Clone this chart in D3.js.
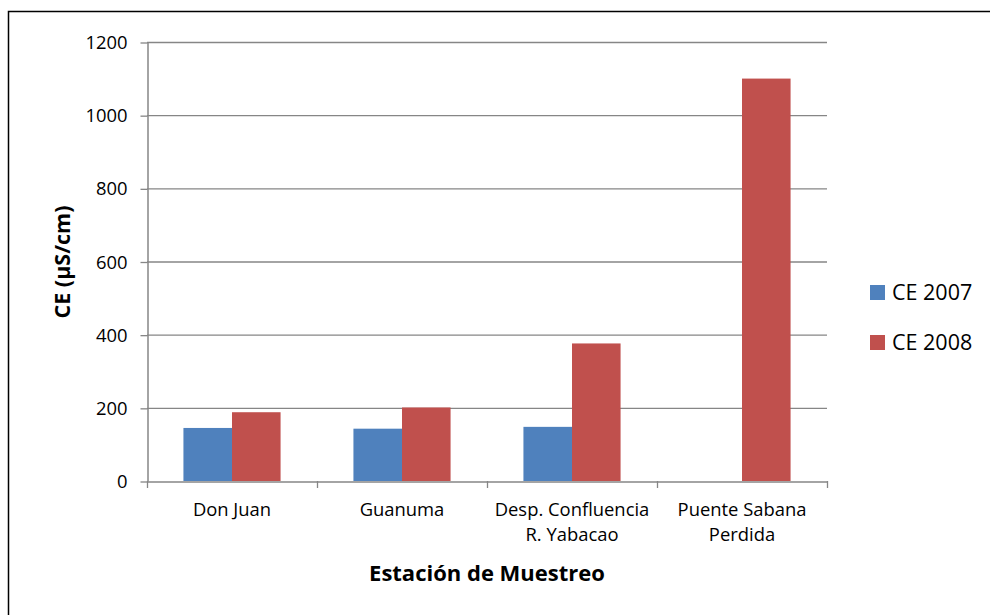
<!DOCTYPE html>
<html><head><meta charset="utf-8">
<script src="https://cdn.jsdelivr.net/npm/d3@7"></script>
<style>body{margin:0;background:#fff}svg{display:block}text{font-family:"Open Sans",Carlito,Calibri,sans-serif;fill:#000}</style>
</head><body>
<script>
const categories = [["Don Juan"], ["Guanuma"], ["Desp. Confluencia", "R. Yabacao"], ["Puente Sabana", "Perdida"]];
const series = ["CE 2007", "CE 2008"];
const ce2007 = [145, 143, 148, null];
const ce2008 = [188, 201, 376, 1100];
const yTicks = [0, 200, 400, 600, 800, 1000, 1200];
const colors = ["#4F81BD", "#C0504D"];

const FONT = '"Open Sans",Carlito,Calibri,sans-serif';
const W = 990, H = 615;
const svg = d3.select("body").append("svg").attr("width", W).attr("height", H);
svg.append("rect").attr("x", 8.5).attr("y", 11.5).attr("width", 1000).attr("height", 620)
  .attr("fill", "#fff").attr("stroke", "#000").attr("stroke-width", 1.5);

const pL = 147, pR = 827, pT = 42, pB = 481;
const x = d3.scaleBand().domain(d3.range(categories.length)).range([pL, pR]).paddingInner(0).paddingOuter(0);
const y = d3.scaleLinear().domain([0, 1200]).range([pB, pT]);
const bw = x.bandwidth() / 3.5;
const x1 = d3.scaleBand().domain([0, 1]).range([bw * 0.75, bw * 2.75]);

// gridlines
svg.append("g").selectAll("line").data(yTicks.filter(d => d > 0)).join("line")
  .attr("x1", pL).attr("x2", pR).attr("y1", d => y(d) + 0.5).attr("y2", d => y(d) + 0.5)
  .attr("stroke", "#868686").attr("stroke-width", 1.3);

// y axis
const yAxis = d3.axisLeft(y).tickValues(yTicks).tickFormat(d3.format("d")).tickSize(7).tickPadding(13).tickSizeOuter(0);
const gy = svg.append("g").attr("transform", `translate(${pL + 0.5},0)`).call(yAxis);
gy.select(".domain").attr("stroke", "#868686").attr("stroke-width", 1.5);
gy.selectAll(".tick line").attr("stroke", "#868686").attr("stroke-width", 1.3).attr("transform", "translate(0,0.5)");
gy.selectAll(".tick text").attr("font-size", 18.4).attr("font-family", FONT).attr("fill", "#000").attr("dy", "0.36em");

// bars
const data = [ce2007, ce2008];
data.forEach((vals, si) => {
  svg.append("g").selectAll("rect").data(vals.map((v, i) => ({v, i})).filter(d => d.v != null)).join("rect")
    .attr("x", d => x(d.i) + x1(si)).attr("width", x1.bandwidth())
    .attr("y", d => y(d.v)).attr("height", d => pB - y(d.v))
    .attr("fill", colors[si]);
});

// x axis
const xAxis = d3.axisBottom(x).tickValues([]).tickSizeOuter(0);
const gx = svg.append("g").attr("transform", `translate(0,${pB + 0.5})`).call(xAxis);
gx.select(".domain").attr("stroke", "#868686").attr("stroke-width", 1.5);
svg.append("g").selectAll("line").data(d3.range(categories.length + 1)).join("line")
  .attr("x1", i => pL + i * x.bandwidth() + 0.5).attr("x2", i => pL + i * x.bandwidth() + 0.5)
  .attr("y1", pB).attr("y2", pB + 7).attr("stroke", "#868686").attr("stroke-width", 1.3);

// category labels
const cl = svg.append("g").selectAll("text").data(categories).join("text")
  .attr("text-anchor", "middle").attr("font-size", 18.4)
  .attr("transform", (d, i) => `translate(${x(i) + x.bandwidth() / 2},516)`);
cl.selectAll("tspan").data(d => d).join("tspan").attr("x", 0).attr("dy", (d, j) => j === 0 ? 0 : 25).text(d => d);

// axis titles
svg.append("text").attr("x", (pL + pR) / 2).attr("y", 581).attr("text-anchor", "middle")
  .attr("font-size", 22).attr("font-weight", "bold").text("Estación de Muestreo");
svg.append("text").attr("transform", `translate(70,262) rotate(-90)`).attr("text-anchor", "middle")
  .attr("font-size", 21.5).attr("font-weight", "bold").text("CE (µS/cm)");

// legend
const lg = svg.append("g").selectAll("g").data(series).join("g")
  .attr("transform", (d, i) => `translate(870,${285 + i * 50})`);
lg.append("rect").attr("width", 15).attr("height", 15).attr("fill", (d, i) => colors[i]);
lg.append("text").attr("x", 22).attr("y", 14.5).attr("font-size", 21.5).text(d => d);
</script>
</body></html>
